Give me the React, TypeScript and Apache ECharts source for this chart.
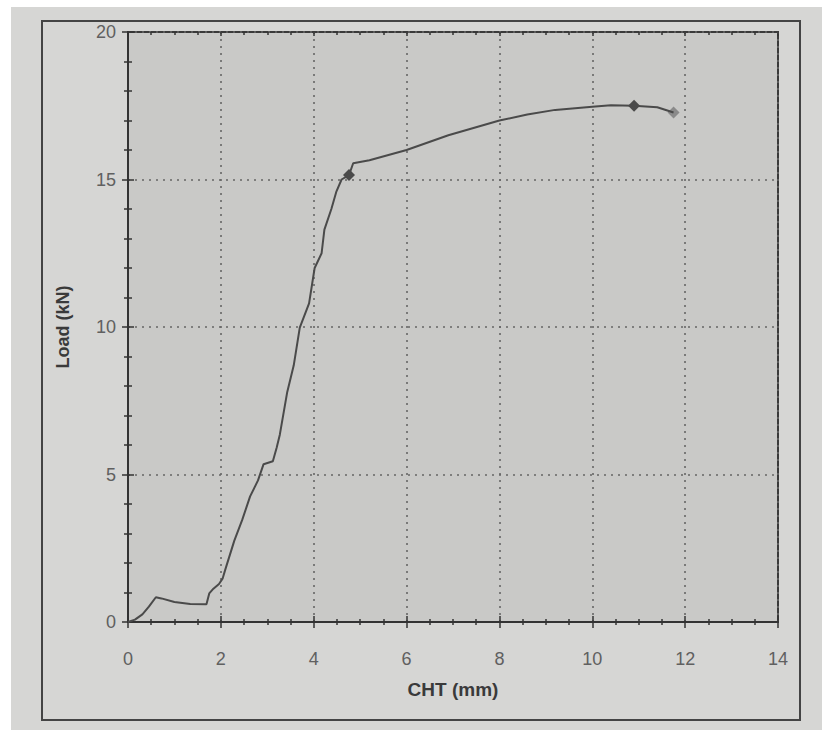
import React, { useEffect, useRef } from "react";
import * as echarts from "echarts";

const chtMm = [0, 0.15, 0.31, 0.45, 0.6, 0.72, 1.0, 1.34, 1.69, 1.75, 1.84, 1.96, 2.04, 2.1, 2.29, 2.46, 2.63, 2.8, 2.92, 3.12, 3.2, 3.27, 3.43, 3.57, 3.7, 3.9, 4.02, 4.17, 4.23, 4.38, 4.49, 4.6, 4.76, 4.85, 5.2, 6.0, 6.9, 8.0, 8.6, 9.2, 10.0, 10.4, 10.9, 11.4, 11.75];
const loadKn = [0, 0.08, 0.26, 0.52, 0.84, 0.8, 0.68, 0.61, 0.6, 0.97, 1.13, 1.29, 1.48, 1.8, 2.76, 3.46, 4.26, 4.8, 5.35, 5.45, 5.9, 6.35, 7.8, 8.7, 9.98, 10.8, 12.0, 12.5, 13.3, 14.0, 14.6, 15.0, 15.15, 15.55, 15.65, 16.0, 16.5, 17.0, 17.2, 17.36, 17.47, 17.52, 17.5, 17.45, 17.27];

const darkMarkers = [[4.76, 15.15], [10.9, 17.5]];
const grayMarkers = [[11.75, 17.27]];

const xTicks = { min: 0, max: 14, interval: 2 };
const yTicks = { min: 0, max: 20, interval: 5 };

export default function App() {
  const ref = useRef<HTMLDivElement>(null);
  useEffect(() => {
    document.body.style.margin = "0";
    const chart = echarts.init(ref.current!, null, { renderer: "svg" });
    const axisColor = "#333";
    const font = "Liberation Sans";
    const tickStyle = { color: axisColor, width: 1.5 };
    const baseX = {
      type: "value",
      ...xTicks,
      splitLine: { show: false },
    };
    const baseY = {
      type: "value",
      ...yTicks,
      splitLine: { show: false },
    };
    chart.setOption({
      animation: false,
      backgroundColor: "transparent",
      grid: {
        left: 128,
        right: 44,
        top: 32,
        bottom: 108,
        show: true,
        backgroundColor: "#c9c9c7",
        borderColor: "#3a3a3a",
        borderWidth: 2,
      },
      graphic: [
        {
          type: "rect",
          shape: { x: 42, y: 21, width: 758, height: 699 },
          style: { fill: "none", stroke: "#444", lineWidth: 2 },
          silent: true,
        },
      ],
      xAxis: [
        {
          ...baseX,
          position: "bottom",
          name: "CHT (mm)",
          nameLocation: "middle",
          nameGap: 58,
          nameTextStyle: { fontFamily: font, fontSize: 19, fontWeight: "bold", color: "#3a3a3a" },
          axisLine: { show: true, lineStyle: { color: axisColor, width: 2 } },
          axisTick: { show: true, length: 6, lineStyle: tickStyle },
          minorTick: { show: true, splitNumber: 4, length: 3, lineStyle: tickStyle },
          axisLabel: { margin: 28, fontFamily: font, fontSize: 18, color: "#606060" },
          splitLine: { show: true, lineStyle: { color: "#666", type: [2, 5], width: 1.6 } },
        },
        {
          ...baseX,
          position: "bottom",
          axisLine: { show: false },
          axisTick: { show: true, inside: true, length: 6, lineStyle: tickStyle },
          minorTick: { show: true, splitNumber: 4, length: 3, lineStyle: tickStyle },
          axisLabel: { show: false },
        },
        {
          ...baseX,
          position: "top",
          axisLine: { show: false },
          axisTick: { show: true, inside: true, length: 4, lineStyle: tickStyle },
          minorTick: { show: true, splitNumber: 4, length: 3, lineStyle: tickStyle },
          axisLabel: { show: false },
        },
      ],
      yAxis: [
        {
          ...baseY,
          position: "left",
          name: "Load (kN)",
          nameLocation: "middle",
          nameGap: 56,
          nameTextStyle: { fontFamily: font, fontSize: 18, fontWeight: "bold", color: "#3a3a3a" },
          axisLine: { show: true, lineStyle: { color: axisColor, width: 2 } },
          axisTick: { show: true, length: 6, lineStyle: tickStyle },
          minorTick: { show: true, splitNumber: 5, length: 4, lineStyle: tickStyle },
          axisLabel: { margin: 12, fontFamily: font, fontSize: 18, color: "#606060" },
          splitLine: { show: true, lineStyle: { color: "#666", type: [2, 5], width: 1.6 } },
        },
        {
          ...baseY,
          position: "left",
          axisLine: { show: false },
          axisTick: { show: true, inside: true, length: 6, lineStyle: tickStyle },
          minorTick: { show: true, splitNumber: 5, length: 4, lineStyle: tickStyle },
          axisLabel: { show: false },
        },
      ],
      series: [
        {
          type: "line",
          xAxisIndex: 0,
          yAxisIndex: 0,
          data: chtMm.map((x, i) => [x, loadKn[i]]),
          showSymbol: false,
          symbol: "none",
          lineStyle: { color: "#4a4a4a", width: 2 },
        },
        {
          type: "scatter",
          data: darkMarkers,
          symbol: "diamond",
          symbolSize: 12,
          itemStyle: { color: "#2a2a2a" },
        },
        {
          type: "scatter",
          data: grayMarkers,
          symbol: "diamond",
          symbolSize: 12,
          itemStyle: { color: "#7a7a7a" },
        },
      ],
    });
    return () => chart.dispose();
  }, []);
  return (
    <div style={{ position: "relative", width: 822, height: 730, background: "#fff", overflow: "hidden" }}>
      <div style={{ position: "absolute", left: 11, top: 7, right: 0, bottom: 0, background: "#d6d6d4" }} />
      <div ref={ref} style={{ position: "absolute", left: 0, top: 0, width: 822, height: 730 }} />
    </div>
  );
}
